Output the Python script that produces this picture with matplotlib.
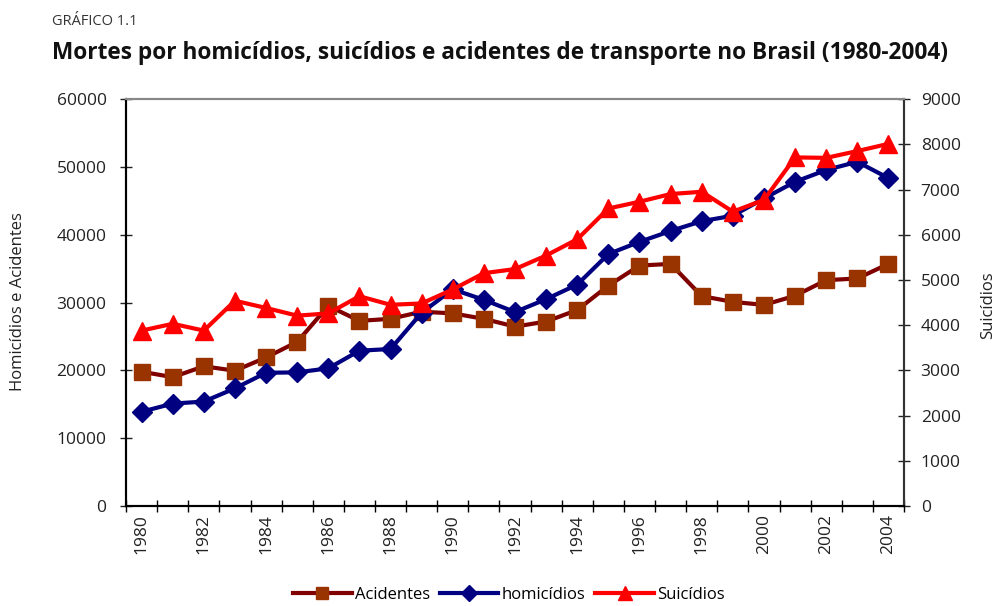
import matplotlib.pyplot as plt
import numpy as np

plt.rcParams['font.family'] = ['Open Sans', 'DejaVu Sans']

anos = np.arange(1980, 2005)

acidentes = [19800, 19000, 20600, 19950, 21900, 24200, 29500, 27300, 27600, 28650,
             28400, 27600, 26450, 27200, 28900, 32500, 35450, 35700, 30950, 30100,
             29650, 31000, 33300, 33550, 35700]
homicidios = [13900, 15100, 15400, 17350, 19650, 19700, 20300, 22900, 23150, 28500,
              31950, 30400, 28600, 30500, 32650, 37150, 38950, 40550, 42000, 42800,
              45350, 47800, 49550, 50750, 48350]
suicidios = [3880, 4030, 3880, 4540, 4380, 4210, 4260, 4640, 4450, 4480,
             4790, 5150, 5240, 5540, 5900, 6580, 6730, 6900, 6950, 6510,
             6770, 7710, 7700, 7850, 8010]

fig = plt.figure(figsize=(9.98, 6.06), dpi=100)
ax = fig.add_axes([0.1263, 0.165, 0.7795, 0.6715])
ax2 = ax.twinx()

l1, = ax.plot(anos, acidentes, color='#800000', lw=3, marker='s', markersize=11.5,
              markerfacecolor='#993300', markeredgecolor='#993300', label='Acidentes', zorder=3)
l2, = ax.plot(anos, homicidios, color='#000080', lw=3, marker='D', markersize=10,
              markerfacecolor='#000080', markeredgecolor='#000080', label='homicídios', zorder=4)
l3, = ax2.plot(anos, suicidios, color='#ff0000', lw=3, marker='^', markersize=13,
               markerfacecolor='#ff0000', markeredgecolor='#ff0000', label='Suicídios')

ax.set_xlim(1979.5, 2004.5)
ax.set_ylim(0, 60000)
ax2.set_ylim(0, 9000)
ax.set_yticks(np.arange(0, 60001, 10000))
ax2.set_yticks(np.arange(0, 9001, 1000))
ax.set_xticks(anos[::2])
ax.set_xticklabels([str(a) for a in anos[::2]], rotation=90)
ax.set_xticks(np.arange(1979.5, 2005, 1), minor=True)

ax.tick_params(axis='x', which='major', length=0, labelsize=12.5, pad=6, colors='#222222')
ax.tick_params(axis='x', which='minor', direction='inout', length=8, width=1)
ax.tick_params(axis='y', direction='inout', length=8, width=1, labelsize=12.5, pad=10, colors='#222222')
ax2.tick_params(axis='y', direction='inout', length=8, width=1, labelsize=12.5, pad=8, colors='#222222')

for a in (ax, ax2):
    a.spines['top'].set_color('#888888')
    a.spines['top'].set_linewidth(1.5)
    a.spines['left'].set_linewidth(1.5)
    a.spines['bottom'].set_linewidth(1.5)
    a.spines['right'].set_linewidth(1.5)
    a.spines['right'].set_color('#333333')

# axis titles placed directly in figure coords
fig.text(18 / 998, 1 - 302 / 606, 'Homicídios e Acidentes', rotation=90, fontsize=12,
         color='#222222', ha='center', va='center')
fig.text(988 / 998, 1 - 305 / 606, 'Suicídios', rotation=90, fontsize=12,
         color='#222222', ha='center', va='center')

fig.text(0.052, 0.965, 'GRÁFICO 1.1', fontsize=10.5, color='#333333', va='center')
fig.text(0.052, 0.913, 'Mortes por homicídios, suicídios e acidentes de transporte no Brasil (1980-2004)',
         fontsize=16.3, fontweight='bold', color='#111111', va='center')

fig.legend([l1, l2, l3], ['Acidentes', 'homicídios', 'Suicídios'], loc='center',
           bbox_to_anchor=(0.51, 0.018), ncol=3, frameon=False, fontsize=12,
           handlelength=3.5, handletextpad=0.2, columnspacing=0.6, markerscale=0.8)

fig.savefig('out.png', dpi=100)
